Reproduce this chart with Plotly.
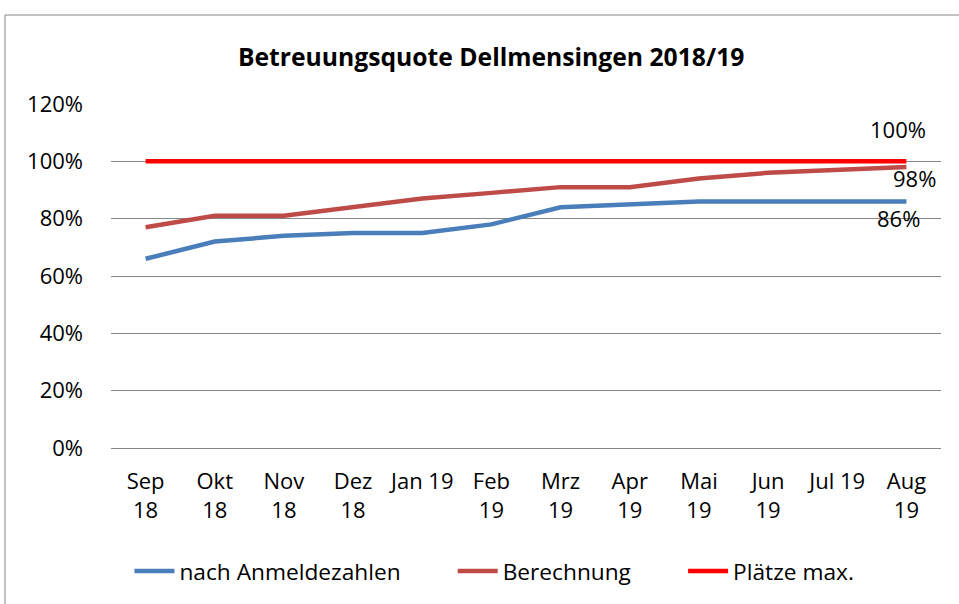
import plotly.graph_objects as go

months = ["Sep<br>18", "Okt<br>18", "Nov<br>18", "Dez<br>18", "Jan 19", "Feb<br>19",
          "Mrz<br>19", "Apr<br>19", "Mai<br>19", "Jun<br>19", "Jul 19", "Aug<br>19"]
anmeldung = [0.66, 0.72, 0.74, 0.75, 0.75, 0.78, 0.84, 0.85, 0.86, 0.86, 0.86, 0.86]
berechnung = [0.77, 0.81, 0.81, 0.84, 0.87, 0.89, 0.91, 0.91, 0.94, 0.96, 0.97, 0.98]
plaetze = [1.00] * 12
y_ticks = [0, 0.2, 0.4, 0.6, 0.8, 1.0, 1.2]
y_labels = ["0%", "20%", "40%", "60%", "80%", "100%", "120%"]
series_names = ["nach Anmeldezahlen", "Berechnung", "Plätze max."]

FONT = "Open Sans, sans-serif"
FS = 22
PAD = "\u00a0" * 8

fig = go.Figure()
fig.add_trace(go.Scatter(x=months, y=anmeldung, mode="lines", name=series_names[0] + PAD,
                         line=dict(color="#4A7EBB", width=4.5)))
fig.add_trace(go.Scatter(x=months, y=berechnung, mode="lines", name=series_names[1] + PAD,
                         line=dict(color="#BE4B48", width=4.5)))
fig.add_trace(go.Scatter(x=months, y=plaetze, mode="lines", name=series_names[2],
                         line=dict(color="#FF0000", width=4.5)))

# data labels on last point
fig.add_annotation(x=months[-1], y=plaetze[-1], text=f"{plaetze[-1]*100:.0f}%", showarrow=False,
                   xanchor="center", yanchor="middle", xshift=-8, yshift=32)
fig.add_annotation(x=months[-1], y=berechnung[-1], text=f"{berechnung[-1]*100:.0f}%", showarrow=False,
                   xanchor="left", yanchor="middle", xshift=-15, yshift=-11)
fig.add_annotation(x=months[-1], y=anmeldung[-1], text=f"{anmeldung[-1]*100:.0f}%", showarrow=False,
                   xanchor="center", yanchor="middle", xshift=-8, yshift=-17)

fig.add_shape(type="rect", xref="paper", yref="paper", x0=-0.1277, x1=1.1, y0=-0.6, y1=1.2587,
              line=dict(color="#868686", width=1), fillcolor="rgba(0,0,0,0)", layer="below")

fig.update_layout(
    width=959, height=604,
    margin=dict(l=111, r=18, t=104, b=156, autoexpand=False),
    paper_bgcolor="white", plot_bgcolor="white",
    font=dict(family=FONT, size=FS, color="black"),
    title=dict(text="<b>Betreuungsquote Dellmensingen 2018/19</b>", x=0.458, xanchor="center",
               xref="paper", y=0.905, yanchor="middle", font=dict(size=24.7)),
    showlegend=True,
    legend=dict(orientation="h", x=0.462, xanchor="center", y=-0.358, yanchor="middle",
                font=dict(size=22.7), itemwidth=40, tracegroupgap=0),
    xaxis=dict(type="category", range=[-0.5, 11.5], showgrid=False, showline=False, ticks="",
               automargin=False, ticklabelstandoff=18),
    yaxis=dict(range=[0, 1.2], tickvals=y_ticks, ticktext=y_labels, showgrid=True,
               gridcolor="#868686", gridwidth=1, zeroline=True, zerolinecolor="#868686",
               zerolinewidth=1, showline=False, ticks="", automargin=False,
               ticklabelstandoff=27),
)

fig.write_html("out.html", config={"displayModeBar": False},
               post_script="document.body.style.margin='0px';")
